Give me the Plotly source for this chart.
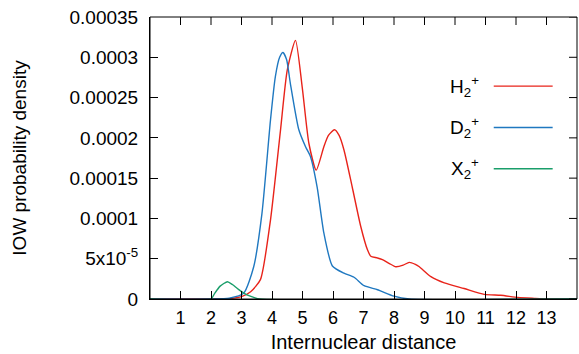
import plotly.graph_objects as go

# H2+ series
h2_x = [0.0, 2.0, 2.6, 3.0, 3.3, 3.62, 3.95, 4.28, 4.5, 4.77, 4.99, 5.21, 5.45, 5.7, 5.85,
        6.05, 6.2, 6.36, 6.63, 6.91, 7.13, 7.24, 7.45, 7.62, 7.85, 8.06, 8.3, 8.5, 8.7,
        8.83, 9.21, 9.65, 10.3, 10.96, 11.5, 12.06, 12.6, 13.05, 14.0]
h2_y = [0.0, 0.0, 0.0000005, 0.000003, 0.000009, 0.000024, 0.000098, 0.00021, 0.000284,
        0.000321, 0.000263, 0.000193, 0.00016, 0.000189, 0.000203,
        0.00021, 0.000203, 0.000185, 0.000139, 0.00009, 0.000061, 0.000053, 0.000051, 0.000049,
        0.000044, 0.00004, 0.000042, 0.0000455, 0.000043,
        0.00004, 0.0000277, 0.00002, 0.000013, 0.0000058, 0.0000046, 0.000002, 0.0000008, 0.0, 0.0]

# D2+ series
d2_x = [0.0, 2.0, 2.6, 3.07, 3.4, 3.67, 3.95, 4.11, 4.25, 4.36, 4.48, 4.6, 4.88, 5.1,
        5.26, 5.48, 5.7, 5.98, 6.36, 6.69, 7.02, 7.46, 8.0, 8.5, 14.0]
d2_y = [0.0, 0.0, 0.000001, 0.000007, 0.00004, 0.000106, 0.000222, 0.000276, 0.0003,
        0.000306, 0.000297, 0.000268, 0.00021, 0.000189,
        0.000177, 0.000139, 0.000082, 0.000041, 0.000032, 0.000027, 0.0000165, 0.0000115,
        0.0000035, 0.0, 0.0]

# X2+ series
x2_x = [0.0, 2.0, 2.12, 2.3, 2.54, 2.7, 2.9, 3.18, 3.4, 3.6, 14.0]
x2_y = [0.0, 0.0, 0.000007, 0.000016, 0.0000215, 0.000018, 0.000012, 0.000005, 0.000002, 0.0, 0.0]

series_names = ["H<sub>2</sub><sup>+</sup>", "D<sub>2</sub><sup>+</sup>", "X<sub>2</sub><sup>+</sup>"]
colors = ["#e8231a", "#1f78c0", "#1a9e6a"]

y_tickvals = [0, 0.00005, 0.0001, 0.00015, 0.0002, 0.00025, 0.0003, 0.00035]
y_ticktext = ["0", "5x10<sup>-5</sup>", "0.0001", "0.00015", "0.0002", "0.00025", "0.0003", "0.00035"]
x_tickvals = list(range(1, 14))
X_RANGE = [0, 14]
Y_RANGE = [0, 0.00035]

FONT = "Liberation Sans, Arial, sans-serif"

fig = go.Figure()
for xs, ys, name, col in zip([h2_x, d2_x, x2_x], [h2_y, d2_y, x2_y], series_names, colors):
    fig.add_trace(go.Scatter(x=xs, y=ys, mode="lines", name=name,
                             line=dict(color=col, width=1.4, shape="spline", smoothing=0.6)))

# manual legend (text left of sample line, gnuplot style)
leg_y = [0.755, 0.608, 0.462]
annotations = []
shapes = []
for name, col, yy in zip(series_names, colors, leg_y):
    annotations.append(dict(x=0.775, y=yy, xref="paper", yref="paper", text=name,
                            showarrow=False, xanchor="right", yanchor="middle",
                            font=dict(family=FONT, size=19, color="black")))
    shapes.append(dict(type="line", xref="paper", yref="paper", x0=0.805, x1=0.943,
                       y0=yy, y1=yy, line=dict(color=col, width=1.4)))

# frame around the plot area, with inward ticks on the top and right sides
shapes.append(dict(type="rect", xref="paper", yref="paper", x0=0, x1=1, y0=0, y1=1,
                   line=dict(color="black", width=1), layer="above"))
for tv in x_tickvals:
    shapes.append(dict(type="line", xref="x", yref="paper", ysizemode="pixel", yanchor=1,
                       x0=tv, x1=tv, y0=-8, y1=0, line=dict(color="black", width=1)))
for tv in y_tickvals:
    shapes.append(dict(type="line", xref="paper", yref="y", xsizemode="pixel", xanchor=1,
                       x0=-8, x1=0, y0=tv, y1=tv, line=dict(color="black", width=1)))

fig.update_layout(
    width=579, height=354,
    margin=dict(l=150, r=2, t=17, b=55),
    paper_bgcolor="white", plot_bgcolor="white",
    showlegend=False,
    font=dict(family=FONT, size=18, color="black"),
    annotations=annotations, shapes=shapes,
    xaxis=dict(range=X_RANGE, tickvals=x_tickvals, ticks="inside", ticklen=8,
               tickcolor="black", showline=True, linecolor="black", linewidth=1,
               showgrid=False, zeroline=False, automargin=False, ticklabelstandoff=2,
               title=dict(text="Internuclear distance", standoff=8, font=dict(size=20)),
               tickfont=dict(size=18)),
    yaxis=dict(range=Y_RANGE, tickvals=y_tickvals, ticktext=y_ticktext,
               ticks="inside", ticklen=8, tickcolor="black", showline=True,
               linecolor="black", linewidth=1, showgrid=False, zeroline=False,
               automargin=False, ticklabelstandoff=7,
               title=dict(text="IOW probability density", standoff=37, font=dict(size=19)),
               tickfont=dict(size=19)),
)

# remove the default 8px page margin so the figure sits at the window's top-left corner
fig.write_html("out.html", config={"displayModeBar": False},
               post_script="document.body.style.margin='0';")
